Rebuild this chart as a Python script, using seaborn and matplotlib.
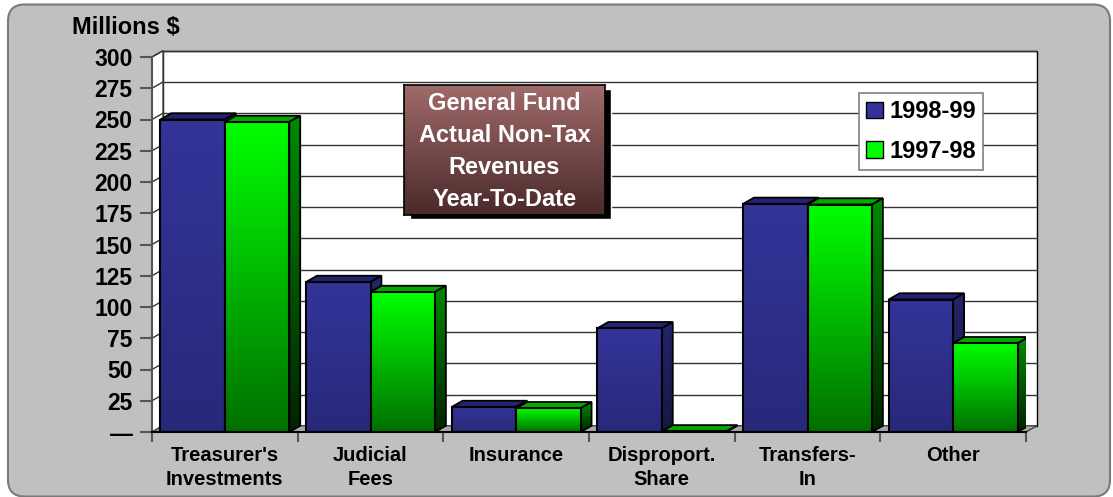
import numpy as np
import pandas as pd
import seaborn as sns
import matplotlib.pyplot as plt
from matplotlib.patches import Polygon, Rectangle, FancyBboxPatch, Patch
from matplotlib.colors import LinearSegmentedColormap

# data
categories = ["Treasurer's\nInvestments", "Judicial\nFees", "Insurance",
              "Disproport.\nShare", "Transfers-\nIn", "Other"]
years = ["1998-99", "1997-98"]
fy1999 = [250, 120, 20, 83, 182.5, 106]
fy1998 = [248, 112, 19, 0.5, 182, 71]
yticks = [0, 25, 50, 75, 100, 125, 150, 175, 200, 225, 250, 275, 300]
ytick_labels = ["\u2014", "25", "50", "75", "100", "125", "150", "175",
                "200", "225", "250", "275", "300"]
box_title = "General Fund\nActual Non-Tax\nRevenues\nYear-To-Date"

df = pd.DataFrame({
    "category": categories * 2,
    "year": [years[0]] * len(categories) + [years[1]] * len(categories),
    "value": fy1999 + fy1998,
})

sns.set_theme(style="white")
plt.rcParams["font.family"] = ["Liberation Sans", "DejaVu Sans"]
plt.rcParams["font.weight"] = "bold"
plt.rcParams["text.color"] = "black"
plt.rcParams["xtick.labelcolor"] = "black"
plt.rcParams["ytick.labelcolor"] = "black"

W, H = 1113, 497
fig = plt.figure(figsize=(W / 100, H / 100), dpi=100, facecolor="white")

# grey rounded panel behind everything
panel = FancyBboxPatch((8 / W, 0.5 / H), 1102 / W, 492 / H,
                       boxstyle="round,pad=0,rounding_size=0.015",
                       mutation_aspect=W / H,
                       transform=fig.transFigure, fc="#c0c0c0", ec="#7a7a7a",
                       lw=1.5, zorder=-10)
fig.add_artist(panel)

ax = fig.add_axes([152 / W, 1 - 432 / H, 874 / W, 375 / H])
ax.patch.set_visible(False)

front = ["#333399", "#00ff00"]
sns.barplot(data=df, x="category", y="value", hue="year", hue_order=years,
            palette=front, saturation=1, width=0.885, gap=0,
            edgecolor="black", linewidth=1.5, legend=False, ax=ax)

ax.set_xlim(-0.5, 5.5)
ax.set_ylim(0, 300)

# 3d depth in data units
DX, DY = 0.075, 5.0
x0w, x1w = -0.5, 5.5

# back wall, side wall, floor, gridlines
ax.add_patch(Rectangle((x0w + DX, DY), x1w - x0w, 300, fc="white",
                       ec="black", lw=1, zorder=0.5, clip_on=False))
ax.add_patch(Polygon([(x0w, 0), (x0w + DX, DY), (x0w + DX, 300 + DY), (x0w, 300)],
                     closed=True, fc="white", ec="#555555", lw=1,
                     zorder=0.55, clip_on=False))
ax.add_patch(Polygon([(x0w, 0), (x1w, 0), (x1w + DX, DY), (x0w + DX, DY)],
                     closed=True, fc="#a8a8a8", ec="#444444", lw=1,
                     zorder=0.55, clip_on=False))
for v in yticks[1:]:
    ax.plot([x0w + DX, x1w + DX], [v + DY, v + DY], color="#333333", lw=1,
            zorder=0.6, clip_on=False)
    ax.plot([x0w, x0w + DX], [v, v + DY], color="#333333", lw=1,
            zorder=0.6, clip_on=False)


def grad(patch, top, bottom, z):
    if isinstance(patch, Polygon):
        (bx0, by0), (bx1, by1) = patch.get_xy().min(axis=0), patch.get_xy().max(axis=0)
    else:
        bx0, by0 = patch.get_x(), patch.get_y()
        bx1, by1 = bx0 + patch.get_width(), by0 + patch.get_height()
    cmap = LinearSegmentedColormap.from_list("g", [bottom, top])
    im = ax.imshow(np.linspace(0, 1, 128).reshape(-1, 1), cmap=cmap,
                   extent=[bx0, bx1, by0, by1], origin="lower",
                   aspect="auto", zorder=z, interpolation="bilinear")
    im.set_clip_path(patch)


side_cols = [("#24246a", "#17173f"), ("#008a00", "#002400")]
top_cols = ["#232370", "#00a800"]
grad_cols = [("#343499", "#28287a"), ("#00ff00", "#007000")]

for hi, cont in enumerate(ax.containers):
    for bar in cont:
        z = 2 + hi * 0.4
        bx, w, h = bar.get_x(), bar.get_width(), bar.get_height()
        r = bx + w
        side = Polygon([(r, 0), (r + DX, DY), (r + DX, h + DY), (r, h)],
                       closed=True, fc="none", ec="black", lw=1.3, zorder=z + 0.12)
        top = Polygon([(bx, h), (r, h), (r + DX, h + DY), (bx + DX, h + DY)],
                      closed=True, fc=top_cols[hi], ec="black", lw=1.3, zorder=z + 0.1)
        ax.add_patch(side)
        ax.add_patch(top)
        grad(side, side_cols[hi][0], side_cols[hi][1], z + 0.11)
        bar.set_zorder(z + 0.2)
        bar.set_facecolor("none")
        grad(bar, grad_cols[hi][0], grad_cols[hi][1], z + 0.15)

ax.set_xlim(-0.5, 5.5)
ax.set_ylim(0, 300)

# axes styling
for s in ["top", "right"]:
    ax.spines[s].set_visible(False)
ax.spines["left"].set_color("#555555")
ax.spines["left"].set_linewidth(1.5)
ax.spines["bottom"].set_color("black")
ax.spines["bottom"].set_linewidth(1.5)
ax.spines["left"].set_zorder(5)
ax.spines["bottom"].set_zorder(5)

ax.set_yticks(yticks, ytick_labels)
ax.tick_params(axis="y", length=9, width=1.5, color="#555555", pad=5,
               labelsize=16.5, left=True, labelcolor="black")
ax.set_xticks(range(len(categories)), categories)
ax.tick_params(axis="x", length=0, pad=10, labelsize=14.5, labelcolor="black")
ax.set_xticks(np.arange(-0.5, 6, 1), minor=True)
ax.tick_params(axis="x", which="minor", length=7, width=1.5, color="#555555",
               bottom=True)
for t in ax.get_xticklabels():
    t.set_fontweight("bold")
    t.set_linespacing(1.35)
for t in ax.get_yticklabels():
    t.set_fontweight("bold")
ax.set_xlabel("")
ax.set_ylabel("")

fig.text(72 / W, 1 - 28 / H, "Millions $", fontsize=17, fontweight="bold",
         ha="left", va="center", color="black")

# legend
handles = [Patch(fc=c, ec="black", lw=1) for c in front]
leg = fig.legend(handles, years, loc="upper left",
                 bbox_to_anchor=(859 / W, 1 - 93 / H), borderaxespad=0,
                 frameon=True, fancybox=False, edgecolor="#808080",
                 facecolor="white", framealpha=1,
                 prop=dict(size=17, weight="bold"),
                 handlelength=0.7, handleheight=0.7, borderpad=0.3,
                 labelspacing=0.7, handletextpad=0.3)
leg.get_frame().set_linewidth(1.2)
for t in leg.get_texts():
    t.set_color("black")

# title box with shadow
fig.add_artist(Rectangle((410 / W, 1 - 219 / H), 201 / W, 130 / H,
                         transform=fig.transFigure, fc="black", zorder=1))
tax = fig.add_axes([404 / W, 1 - 215 / H, 201 / W, 130 / H], zorder=2)
tcmap = LinearSegmentedColormap.from_list("t", ["#4a2a2a", "#a06a6a"])
tax.imshow(np.linspace(0, 1, 128).reshape(-1, 1), cmap=tcmap, origin="lower",
           extent=[0, 1, 0, 1], aspect="auto")
tax.set_xticks([])
tax.set_yticks([])
for s in tax.spines.values():
    s.set_color("black")
    s.set_linewidth(1.2)
tax.text(0.5, 0.49, box_title, transform=tax.transAxes, ha="center",
         va="center", color="white", fontsize=17, fontweight="bold",
         linespacing=1.5)

fig.savefig("out.png", dpi=100, facecolor=fig.get_facecolor())
